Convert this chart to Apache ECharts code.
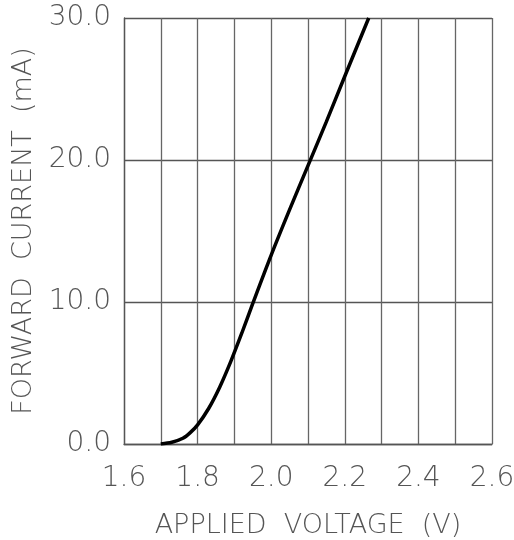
<!DOCTYPE html>
<html>
<head>
<meta charset="utf-8">
<script src="https://cdn.jsdelivr.net/npm/echarts@6/dist/echarts.min.js"></script>
<style>
html,body{margin:0;padding:0;background:#fff;}
#c{width:514px;height:540px;}
</style>
</head>
<body>
<div id="c"></div>
<script>
var voltage = [1.70, 1.73, 1.76, 1.78, 1.80, 1.83, 1.86, 1.89, 1.92, 1.95, 2.00, 2.05, 2.10, 2.15, 2.20, 2.265];
var current = [0.0, 0.12, 0.4, 0.8, 1.35, 2.5, 4.0, 5.8, 7.8, 9.9, 13.3, 16.5, 19.6, 22.7, 25.9, 30.0];
var xTicks = ['1.6', '1.8', '2.0', '2.2', '2.4', '2.6'];
var yTicks = ['0.0', '10.0', '20.0', '30.0'];
var xName = 'APPLIED  VOLTAGE  (V)';
var yName = 'FORWARD  CURRENT  (mA)';

var pts = voltage.map(function (v, i) { return [v, current[i]]; });
var font = 'DejaVu Sans';
var txt = '#555';
var chart = echarts.init(document.getElementById('c'), null, {renderer: 'canvas'});
chart.setOption({
  animation: false,
  grid: {left: 124, right: 22, top: 18, bottom: 96, containLabel: false, outerBoundsMode: 'none'},
  xAxis: {
    type: 'value', min: 1.6, max: 2.6, interval: 0.1,
    name: xName, nameLocation: 'middle', nameGap: 68,
    nameTextStyle: {fontFamily: font, fontSize: 27, color: txt, fontWeight: 200},
    axisLine: {show: true, lineStyle: {color: '#555', width: 1.3}},
    axisTick: {show: false},
    splitLine: {show: true, lineStyle: {color: '#666', width: 1.3}},
    axisLabel: {
      margin: 21, fontFamily: font, fontSize: 28, color: txt, fontWeight: 200,
      formatter: function (v) {
        var s = v.toFixed(1);
        return xTicks.indexOf(s) >= 0 ? s : '';
      }
    }
  },
  yAxis: {
    type: 'value', min: 0, max: 30, interval: 10,
    name: yName, nameLocation: 'middle', nameGap: 87, nameRotate: 90,
    nameTextStyle: {fontFamily: font, fontSize: 27, color: txt, fontWeight: 200},
    axisLine: {show: true, lineStyle: {color: '#555', width: 1.3}},
    axisTick: {show: false},
    splitLine: {show: true, lineStyle: {color: '#555', width: 1.3}},
    axisLabel: {
      margin: 13, fontFamily: font, fontSize: 28, color: txt, fontWeight: 200,
      formatter: function (v) {
        var s = v.toFixed(1);
        return yTicks.indexOf(s) >= 0 ? s : '';
      }
    }
  },
  series: [{
    type: 'line', data: pts, smooth: 0.3, showSymbol: false,
    lineStyle: {color: '#000', width: 3.5}
  }]
});
</script>
</body>
</html>
